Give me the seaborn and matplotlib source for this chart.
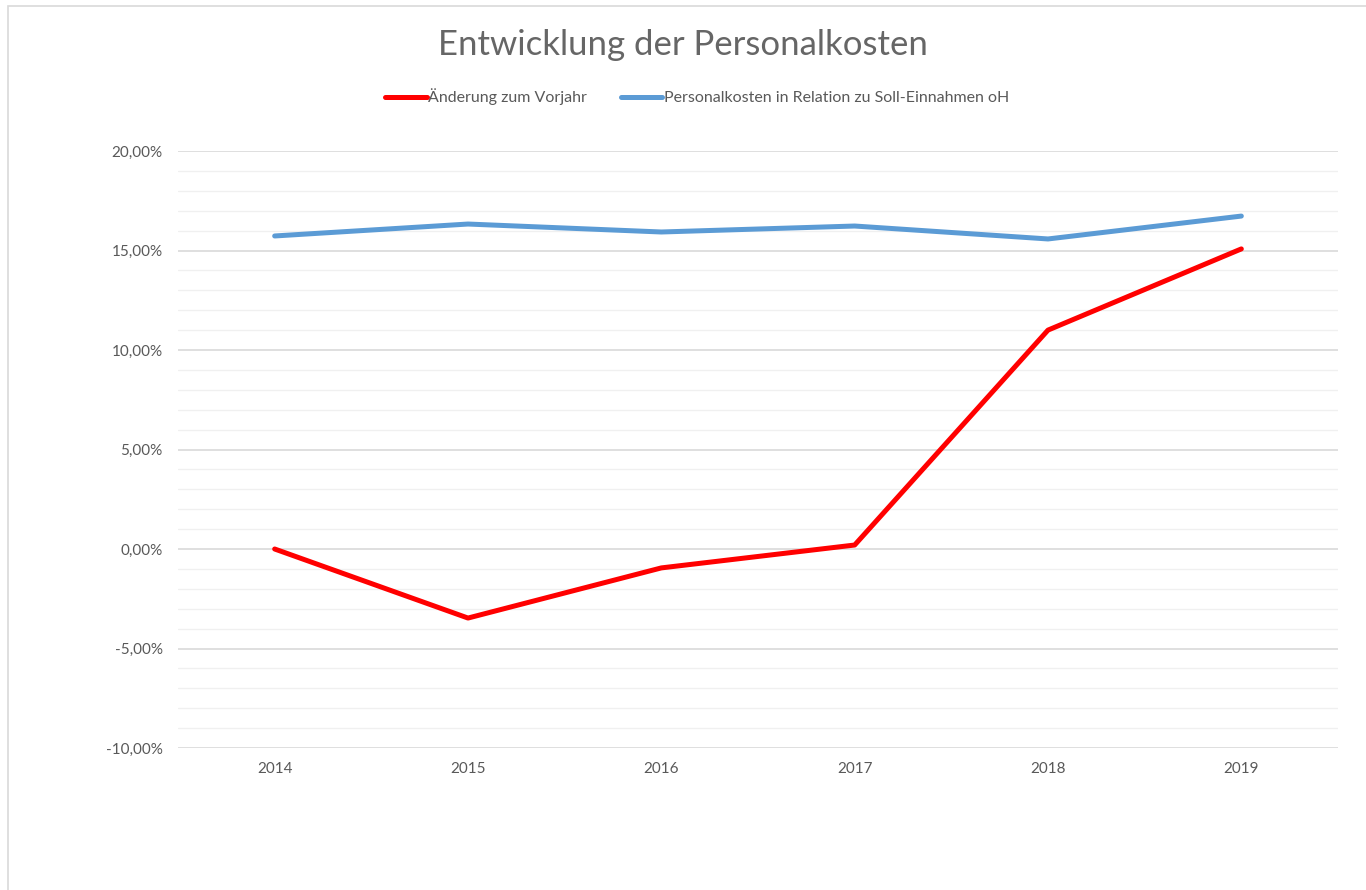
import matplotlib
matplotlib.use("Agg")
import matplotlib.pyplot as plt
import seaborn as sns
import pandas as pd
from matplotlib.ticker import FuncFormatter, MultipleLocator
from matplotlib.patches import Rectangle
from matplotlib.lines import Line2D

years = [2014, 2015, 2016, 2017, 2018, 2019]
aenderung = [0.0, -3.47, -0.95, 0.20, 11.0, 15.08]
relation = [15.73, 16.33, 15.93, 16.23, 15.58, 16.73]
series_names = ["Änderung zum Vorjahr", "Personalkosten in Relation zu Soll-Einnahmen oH"]
colors = ["#FF0000", "#5B9BD5"]
title = "Entwicklung der Personalkosten"

df = pd.concat([
    pd.DataFrame({"Jahr": years, "Wert": aenderung, "Serie": series_names[0]}),
    pd.DataFrame({"Jahr": years, "Wert": relation, "Serie": series_names[1]}),
])

sns.set_theme(style="white")
plt.rcParams["font.family"] = ["Lato", "DejaVu Sans"]

fig = plt.figure(figsize=(13.66, 8.9), dpi=100)
ax = fig.add_axes([178/1366, 1-748/890, (1338-178)/1366, (748-151)/890])

sns.lineplot(data=df, x="Jahr", y="Wert", hue="Serie", palette=dict(zip(series_names, colors)),
             linewidth=3.6, ax=ax, legend=False, solid_capstyle="round")

ax.set_xlim(2013.5, 2019.5)
ax.set_ylim(-10, 20)
ax.yaxis.set_major_locator(MultipleLocator(5))
ax.yaxis.set_minor_locator(MultipleLocator(1))
ax.set_xticks(years)
ax.set_xticklabels([str(y) for y in years])
ax.yaxis.set_major_formatter(FuncFormatter(lambda v, p: f"{v:.2f}%".replace(".", ",")))
ax.grid(which="major", axis="y", color="#d9d9d9", linewidth=1.2)
ax.grid(which="minor", axis="y", color="#f0f0f0", linewidth=1.0)
ax.set_axisbelow(True)
for s in ax.spines.values():
    s.set_visible(False)
ax.tick_params(axis="both", which="both", length=0, labelsize=11, colors="#595959")
ax.tick_params(axis="y", pad=11)
ax.tick_params(axis="x", pad=10)
ax.set_xlabel("")
ax.set_ylabel("")

fig.text(0.5, 1-45/890, title, ha="center", va="center", fontsize=25, color="#666666")

handles = [Line2D([0], [0], color=c, lw=3.6, solid_capstyle="round") for c in colors]
fig.legend(handles, series_names, loc="center", bbox_to_anchor=(0.5 + 14/1366, 1-97/890), ncol=2,
           frameon=False, fontsize=11.5, labelcolor="#595959", handlelength=2.6,
           handletextpad=0.1, columnspacing=2.1)

fig.patches.append(Rectangle((8/1366, -0.1), 1.2, 1-6/890+0.1, transform=fig.transFigure,
                             fill=False, edgecolor="#d9d9d9", linewidth=1.2, figure=fig))

fig.savefig("out.png", dpi=100)
